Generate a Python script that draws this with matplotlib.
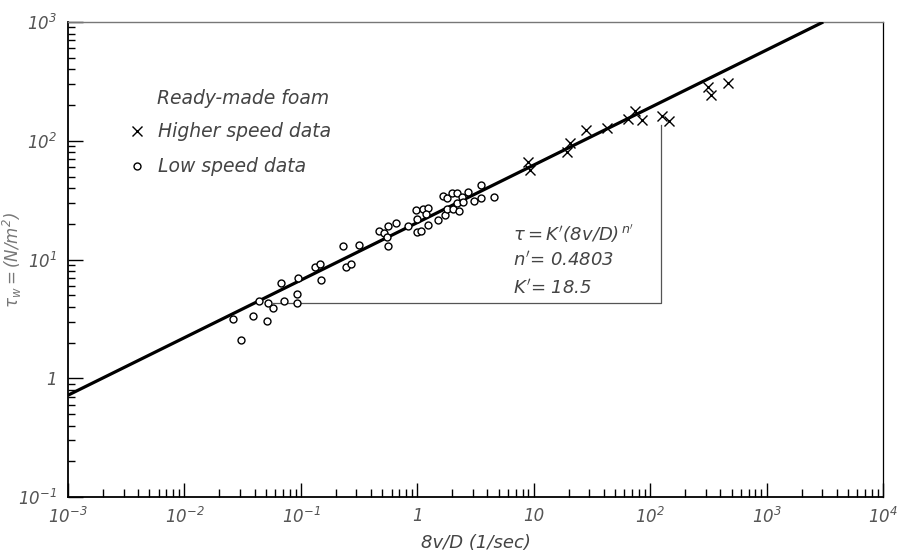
"""
Flow curve of ready-made foam: wall shear stress against 8v/D on log-log axes,
with the fitted power-law line tau = K'(8v/D)^n'.
"""

import matplotlib.pyplot as plt
from matplotlib.ticker import FixedLocator, FixedFormatter, LogLocator, NullFormatter

# Low speed data (circles)
low_x = [0.0263, 0.0304, 0.0385, 0.0435, 0.0509, 0.0525, 0.0573, 0.0671, 0.0716,
         0.0931, 0.0931, 0.0944, 0.132, 0.146, 0.149, 0.229, 0.243, 0.268, 0.315,
         0.472, 0.521, 0.552, 0.564, 0.564, 0.656, 0.838, 0.975, 1.00, 0.989, 1.08,
         1.11, 1.23, 1.19, 1.24, 1.49, 1.67, 1.81, 1.98, 2.18, 1.73, 1.79, 2.01,
         2.21, 2.30, 2.44, 2.48, 2.74, 3.09, 3.51, 3.52, 4.53]
low_y = [3.15, 2.09, 3.36, 4.50, 3.02, 4.33, 3.93, 6.30, 4.45,
         5.12, 4.30, 6.98, 8.65, 9.12, 6.72, 12.9, 8.59, 9.12, 13.3,
         17.3, 16.6, 15.4, 19.3, 13.1, 20.4, 19.1, 25.9, 21.8, 17.1, 17.3,
         26.6, 27.2, 24.2, 19.6, 21.6, 34.4, 33.1, 36.5, 36.5, 23.6, 26.5, 26.5,
         29.7, 25.8, 33.8, 30.3, 37.2, 31.1, 42.4, 32.7, 33.8]

# Higher speed data (crosses)
high_x = [8.98, 9.29, 19.4, 20.5, 28.1, 42.4, 63.8, 74.1, 84.6, 126, 146, 316, 331, 461]
high_y = [66.7, 56.7, 80.9, 95.2, 123, 129, 153, 178, 149, 163, 146, 284, 243, 308]

# Fitted line end points and the slope construction lines
fit_x = [1e-3, 3060]
fit_y = [0.72, 1000]
guide_x = [0.058, 124, 124]
guide_y = [4.3, 4.3, 136]

x_ticks = [1e-3, 1e-2, 1e-1, 1, 10, 1e2, 1e3, 1e4]
x_labels = ['$10^{-3}$', '$10^{-2}$', '$10^{-1}$', '1', '10', '$10^{2}$', '$10^{3}$', '$10^{4}$']
y_ticks = [1e-1, 1, 10, 1e2, 1e3]
y_labels = ['$10^{-1}$', '1', '$10^{1}$', '$10^{2}$', '$10^{3}$']

TXT = '#444444'


def make_plot():
    plt.rcParams['font.family'] = ['DejaVu Sans']
    plt.rcParams['font.style'] = 'italic'
    plt.rcParams['mathtext.fontset'] = 'dejavusans'
    plt.rcParams['mathtext.default'] = 'it'

    fig = plt.figure(figsize=(9.03, 5.57), dpi=100)
    ax = fig.add_axes([0.0753, 0.1077, 0.9027, 0.8528])
    ax.set_xscale('log')
    ax.set_yscale('log')
    ax.set_xlim(1e-3, 1e4)
    ax.set_ylim(1e-1, 1e3)

    # fitted power law
    ax.plot(fit_x, fit_y, color='black', lw=2.3, solid_capstyle='butt', zorder=3)
    # thin construction lines for the slope
    ax.plot(guide_x, guide_y, color='#555555', lw=0.9, zorder=2)

    ax.plot(low_x, low_y, ls='none', marker='o', ms=5, mfc='white', mec='black',
            mew=1.0, label='Low speed data', zorder=4)
    ax.plot(high_x, high_y, ls='none', marker='x', ms=7, color='black',
            mew=1.0, label='Higher speed data', zorder=4)

    # legend: title as plain text, then the two marker rows
    ax.text(0.109, 0.84, 'Ready-made foam', transform=ax.transAxes,
            fontsize=13.5, color=TXT, va='center')
    handles, labels = ax.get_legend_handles_labels()
    leg = ax.legend(handles[::-1], labels[::-1], loc='upper left',
                    bbox_to_anchor=(0.065, 0.805), frameon=False, fontsize=13.5,
                    handlelength=0.9, handletextpad=0.7, labelspacing=0.85,
                    borderaxespad=0)
    for t in leg.get_texts():
        t.set_color(TXT)

    # equation block
    ax.text(0.546, 0.555, r"$\tau = K^{\prime}(8v/D)^{\,n^{\prime}}$",
            transform=ax.transAxes, fontsize=13, color=TXT, va='center')
    ax.text(0.546, 0.498, r"$n^{\prime}$= 0.4803", transform=ax.transAxes,
            fontsize=13, color=TXT, va='center')
    ax.text(0.546, 0.441, r"$K^{\prime}$= 18.5", transform=ax.transAxes,
            fontsize=13, color=TXT, va='center')

    # ticks
    ax.xaxis.set_major_locator(FixedLocator(x_ticks))
    ax.xaxis.set_major_formatter(FixedFormatter(x_labels))
    ax.yaxis.set_major_locator(FixedLocator(y_ticks))
    ax.yaxis.set_major_formatter(FixedFormatter(y_labels))
    for axis in (ax.xaxis, ax.yaxis):
        axis.set_minor_locator(LogLocator(base=10, subs=range(2, 10), numticks=20))
        axis.set_minor_formatter(NullFormatter())
    ax.tick_params(axis='x', which='major', direction='in', length=10, width=1,
                   pad=7, labelsize=12, labelcolor='#555555')
    ax.tick_params(axis='x', which='minor', direction='in', length=6, width=1)
    ax.tick_params(axis='y', which='major', direction='in', length=11, width=1,
                   pad=8, labelsize=12, labelcolor='#555555')
    ax.tick_params(axis='y', which='minor', direction='in', length=5, width=1)
    ax.tick_params(top=False, right=False, which='both')

    ax.spines['left'].set_linewidth(1.3)
    ax.spines['bottom'].set_linewidth(1.3)
    ax.spines['right'].set_linewidth(0.9)
    ax.spines['top'].set_linewidth(1.0)
    ax.spines['top'].set_color('#777777')

    ax.set_xlabel('8v/D (1/sec)', fontsize=13, color=TXT, va='center')
    ax.xaxis.set_label_coords(0.5, -0.097)
    ax.set_ylabel(r'$\tau_w = (N/m^2)$', fontsize=12, color='#777777', va='center')
    ax.yaxis.set_label_coords(-0.068, 0.5)

    fig.savefig('out.png', dpi=100)


if __name__ == "__main__":
    make_plot()
